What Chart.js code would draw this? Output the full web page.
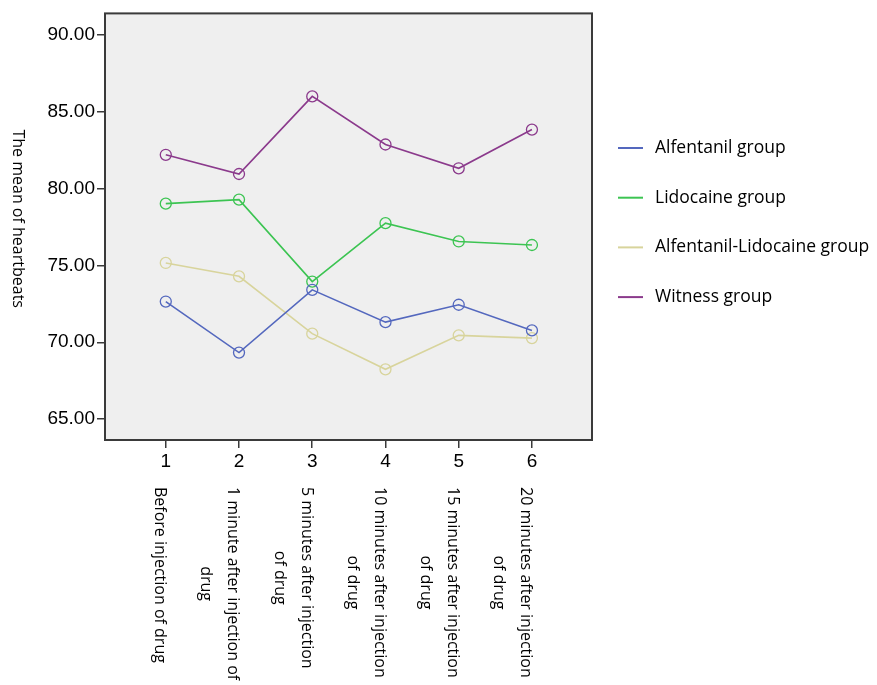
<!DOCTYPE html>
<html>
<head>
<meta charset="utf-8">
<script src="https://cdn.jsdelivr.net/npm/chart.js@4.4.0/dist/chart.umd.min.js"></script>
<style>
  html, body { margin: 0; padding: 0; background: #ffffff; }
  #wrap { width: 877px; height: 685px; position: relative; }
</style>
</head>
<body>
<div id="wrap"><canvas id="grafico" width="877" height="685"></canvas></div>
<script>
// ---- datos ----
const momentos = [1, 2, 3, 4, 5, 6];
const etiquetasMomento = [
    ['Before injection of drug'],
    ['1 minute after injection of', 'drug'],
    ['5 minutes after injection', 'of drug'],
    ['10 minutes after injection', 'of drug'],
    ['15 minutes after injection', 'of drug'],
    ['20 minutes after injection', 'of drug']
];
const grupos = ['Alfentanil group', 'Lidocaine group', 'Alfentanil-Lidocaine group', 'Witness group'];
const alfentanil = [72.65, 69.33, 73.41, 71.31, 72.44, 70.77];
const lidocaine = [79.02, 79.28, 73.95, 77.75, 76.56, 76.33];
const alfentanilLidocaine = [75.16, 74.29, 70.56, 68.24, 70.45, 70.27];
const witness = [82.20, 80.95, 86.00, 82.87, 81.32, 83.84];
const ticksY = [65, 70, 75, 80, 85, 90];

const colores = ['#5468be', '#3cc452', '#d8d49c', '#8b3a8c'];
const fuenteTexto = '"Open Sans", "Noto Sans", sans-serif';
const fuenteEjes = '"Liberation Sans", Arial, sans-serif';

const series = [alfentanil, lidocaine, alfentanilLidocaine, witness];

// Marco, etiquetas giradas, titulo del eje y leyenda
const decorado = {
    id: 'decorado',
    beforeDraw(chart) {
        const { ctx, chartArea: a } = chart;
        ctx.save();
        ctx.fillStyle = '#efefef';
        ctx.fillRect(a.left, a.top, a.right - a.left, a.bottom - a.top);
        ctx.restore();
    },
    afterDraw(chart) {
        const { ctx, chartArea: a, scales } = chart;
        ctx.save();

        // marco
        ctx.strokeStyle = '#3a3a3a';
        ctx.lineWidth = 2;
        ctx.strokeRect(a.left, a.top, a.right - a.left, a.bottom - a.top);

        // etiquetas de momento (giradas 90 grados)
        ctx.fillStyle = '#000';
        ctx.font = '16px ' + fuenteTexto;
        ctx.textBaseline = 'middle';
        ctx.textAlign = 'center';
        const altoLinea = 27;
        etiquetasMomento.forEach((lineas, i) => {
            const x = scales.x.getPixelForValue(momentos[i]) - 6;
            const anchoMax = Math.max(...lineas.map(l => ctx.measureText(l).width));
            ctx.save();
            ctx.translate(x, 487);
            ctx.rotate(Math.PI / 2);
            lineas.forEach((l, j) => ctx.fillText(l, anchoMax / 2, j * altoLinea));
            ctx.restore();
        });

        // titulo del eje Y
        ctx.save();
        ctx.font = '16px ' + fuenteTexto;
        ctx.translate(18, (a.top + a.bottom) / 2 - 8);
        ctx.rotate(Math.PI / 2);
        ctx.fillText('The mean of heartbeats', 0, 0);
        ctx.restore();

        // leyenda
        ctx.textAlign = 'left';
        ctx.font = '17.5px ' + fuenteTexto;
        grupos.forEach((g, i) => {
            const y = 148 + i * 49.7;
            ctx.strokeStyle = colores[i];
            ctx.lineWidth = 2;
            ctx.beginPath();
            ctx.moveTo(618, y);
            ctx.lineTo(643, y);
            ctx.stroke();
            ctx.fillStyle = '#000';
            ctx.fillText(g, 655, y);
        });

        ctx.restore();
    }
};

new Chart(document.getElementById('grafico'), {
    type: 'line',
    data: {
        datasets: grupos.map((g, i) => ({
            label: g,
            data: momentos.map((m, k) => ({ x: m, y: series[i][k] })),
            borderColor: colores[i],
            backgroundColor: 'rgba(0,0,0,0)',
            borderWidth: 1.6,
            pointRadius: 5.5,
            pointBorderWidth: 1.3,
            pointBackgroundColor: 'rgba(0,0,0,0)',
            pointBorderColor: colores[i],
            tension: 0
        }))
    },
    options: {
        responsive: false,
        animation: false,
        layout: { padding: { left: 0, top: 12, right: 285, bottom: 0 } },
        plugins: {
            legend: { display: false },
            tooltip: { enabled: false }
        },
        scales: {
            x: {
                type: 'linear',
                min: 0.17,
                max: 6.82,
                afterBuildTicks: (s) => { s.ticks = momentos.map(v => ({ value: v })); },
                afterFit: (s) => { s.height = 245; },
                ticks: {
                    color: '#000',
                    font: { family: fuenteEjes, size: 19 },
                    padding: 2,
                    callback: (v) => String(v)
                },
                grid: { drawOnChartArea: false, drawTicks: true, tickLength: 8, color: '#3a3a3a', lineWidth: 1.5 },
                border: { display: false }
            },
            y: {
                min: 63.64,
                max: 91.4,
                afterBuildTicks: (s) => { s.ticks = ticksY.map(v => ({ value: v })); },
                afterFit: (s) => { s.width = 105; },
                ticks: {
                    color: '#000',
                    font: { family: fuenteEjes, size: 19 },
                    padding: 2,
                    callback: (v) => Number(v).toFixed(2)
                },
                grid: { drawOnChartArea: false, drawTicks: true, tickLength: 8, color: '#3a3a3a', lineWidth: 1.5 },
                border: { display: false }
            }
        }
    },
    plugins: [decorado]
});
</script>
</body>
</html>
